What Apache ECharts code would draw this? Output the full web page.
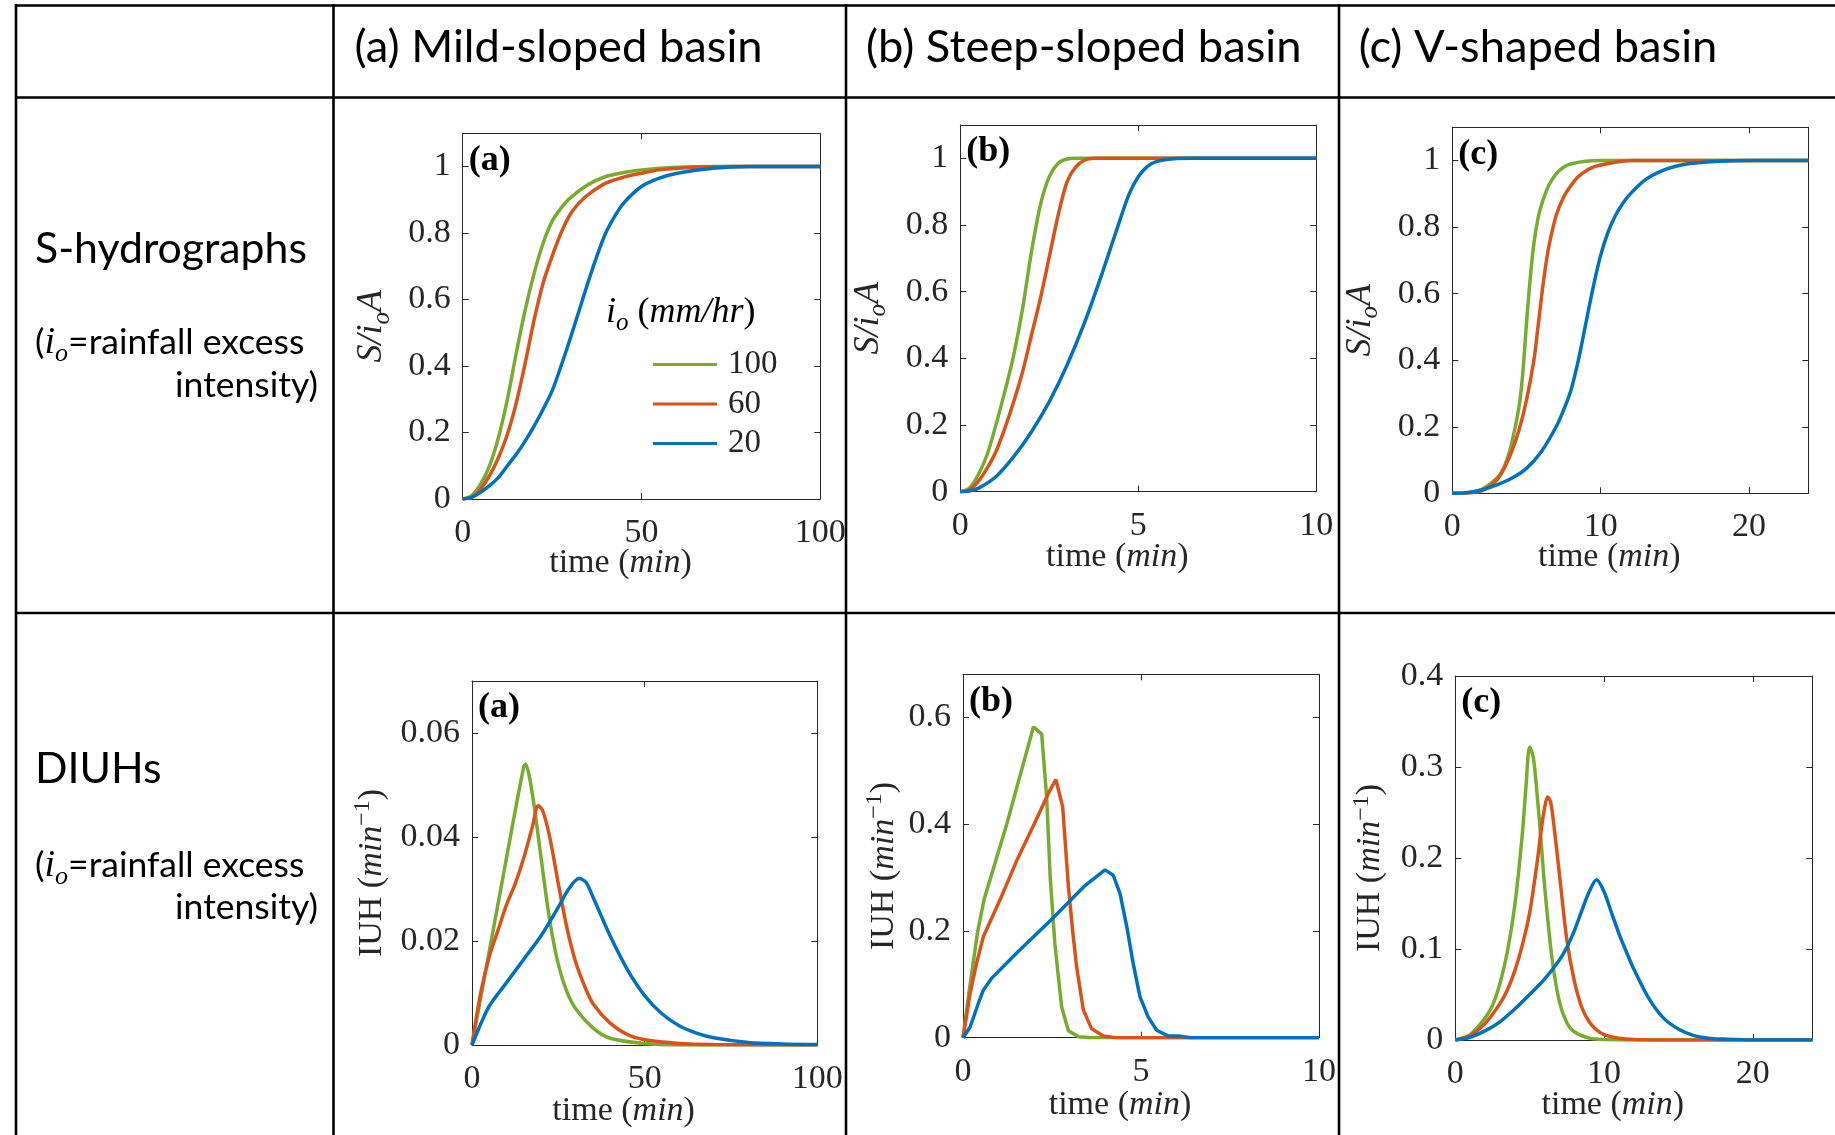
<!DOCTYPE html>
<html><head><meta charset="utf-8">
<script src="https://cdn.jsdelivr.net/npm/echarts@6/dist/echarts.min.js"></script>
<style>html,body{margin:0;padding:0;background:#fff}#c{width:1835px;height:1135px}</style>
</head><body><div id="c"></div>
<script>
// ---------------- DATA ----------------
const seriesNames = ['100', '60', '20'];
const colHeaders = ['(a) Mild-sloped basin', '(b) Steep-sloped basin', '(c) V-shaped basin'];
const rowHeaders = ['S-hydrographs', 'DIUHs'];
const panelTags = ['(a)', '(b)', '(c)', '(a)', '(b)', '(c)'];

const xTicksA = [0, 50, 100];
const xTicksB = [0, 5, 10];
const xTicksC = [0, 10, 20];
const yTicksS = [0, 0.2, 0.4, 0.6, 0.8, 1];
const yTicksIA = [0, 0.02, 0.04, 0.06];
const yTicksIB = [0, 0.2, 0.4, 0.6];
const yTicksIC = [0, 0.1, 0.2, 0.3, 0.4];

// S-hydrographs [time, S/ioA]
const sA_100 = [[0,0],[2.5,0.01],[5,0.045],[7.5,0.10],[10,0.185],[12.5,0.30],[15,0.44],[17.5,0.57],[20,0.68],[22.5,0.77],[25,0.835],[27.5,0.875],[30,0.905],[35,0.945],[40,0.97],[45,0.982],[50,0.99],[60,0.998],[70,1],[100,1]];
const sA_60 = [[0,0],[2.5,0.005],[5,0.03],[7.5,0.07],[10,0.125],[12.5,0.195],[15,0.29],[17.5,0.41],[20,0.54],[22.5,0.65],[25,0.73],[27.5,0.80],[30,0.855],[32.5,0.89],[35,0.915],[40,0.95],[45,0.968],[50,0.98],[55,0.99],[65,0.998],[75,1],[100,1]];
const sA_20 = [[0,0],[2.5,0.005],[5,0.02],[7.5,0.04],[10,0.065],[12.5,0.10],[15,0.135],[17.5,0.175],[20,0.22],[22.5,0.27],[25,0.325],[27.5,0.40],[30,0.48],[32.5,0.565],[35,0.65],[37.5,0.73],[40,0.80],[42.5,0.85],[45,0.89],[50,0.94],[55,0.965],[60,0.98],[70,0.995],[80,1],[100,1]];

const sB_100 = [[0,0],[0.25,0.01],[0.5,0.05],[0.75,0.11],[1,0.20],[1.25,0.30],[1.5,0.41],[1.75,0.55],[2,0.72],[2.25,0.86],[2.5,0.945],[2.75,0.985],[3,0.998],[3.25,1],[10,1]];
const sB_60 = [[0,0],[0.25,0.005],[0.5,0.03],[0.75,0.07],[1,0.12],[1.25,0.19],[1.5,0.27],[1.75,0.36],[2,0.47],[2.25,0.58],[2.5,0.705],[2.75,0.83],[3,0.93],[3.25,0.975],[3.5,0.995],[3.75,1],[10,1]];
const sB_20 = [[0,0],[0.25,0.002],[0.5,0.01],[1,0.045],[1.5,0.105],[2,0.18],[2.5,0.27],[3,0.38],[3.5,0.51],[4,0.66],[4.5,0.82],[4.75,0.895],[5,0.945],[5.25,0.975],[5.5,0.99],[6,0.999],[6.5,1],[10,1]];

const sC_100 = [[0,0],[1,0.002],[2,0.012],[3,0.045],[3.5,0.08],[4,0.15],[4.5,0.26],[4.75,0.36],[5,0.51],[5.25,0.645],[5.5,0.75],[5.75,0.82],[6,0.865],[6.5,0.925],[7,0.96],[7.5,0.98],[8,0.99],[9,0.998],[10,1],[24,1]];
const sC_60 = [[0,0],[1,0.001],[2,0.008],[3,0.04],[3.5,0.075],[4,0.125],[4.5,0.19],[5,0.28],[5.5,0.40],[5.75,0.49],[6,0.585],[6.25,0.67],[6.5,0.74],[7,0.835],[7.5,0.89],[8,0.925],[8.5,0.952],[9.5,0.98],[11,0.995],[12,1],[24,1]];
const sC_20 = [[0,0],[1,0.002],[2,0.01],[3,0.025],[4,0.045],[5,0.075],[6,0.125],[7,0.2],[7.5,0.25],[8,0.31],[8.5,0.40],[9,0.51],[9.5,0.62],[10,0.715],[10.5,0.785],[11,0.835],[11.5,0.872],[12,0.9],[13,0.942],[14,0.967],[15,0.982],[16,0.991],[18,0.998],[20,1],[24,1]];

// DIUHs [time, IUH]
const iA_100 = [[0,0],[2.5,0.009],[5,0.018],[7.5,0.027],[10,0.036],[12.5,0.045],[15,0.0535],[15.5,0.054],[16.5,0.052],[18,0.046],[20,0.036],[22.5,0.024],[25,0.0155],[27.5,0.0102],[30,0.007],[35,0.0033],[40,0.0013],[50,0.0003],[60,0],[100,0]];
const iA_60 = [[0,0],[2.5,0.010],[5,0.017],[7.5,0.022],[10,0.027],[12.5,0.031],[15,0.036],[17.5,0.042],[19.2,0.046],[20.5,0.045],[22.5,0.040],[25,0.031],[27.5,0.0225],[30,0.016],[32.5,0.0115],[35,0.008],[40,0.0042],[45,0.002],[50,0.001],[60,0.0003],[70,0.0001],[100,0]];
const iA_20 = [[0,0],[2.5,0.004],[5,0.0075],[10,0.012],[15,0.0165],[20,0.021],[25,0.0265],[28,0.030],[31,0.032],[33,0.0313],[35,0.0285],[40,0.021],[45,0.0145],[50,0.0095],[55,0.006],[60,0.0037],[65,0.0023],[70,0.0014],[80,0.0005],[90,0.0002],[100,0.0001]];

const iB_100 = [[0,0],[0.2,0.1],[0.41,0.198],[0.59,0.258],[1.23,0.40],[1.98,0.582],[2.21,0.568],[2.35,0.45],[2.45,0.30],[2.58,0.176],[2.77,0.058],[2.96,0.013],[3.24,0.002],[3.6,0],[10,0]];
const iB_60 = [[0,0],[0.2,0.083],[0.38,0.139],[0.57,0.189],[1.04,0.258],[1.5,0.33],[2.0,0.40],[2.44,0.463],[2.61,0.483],[2.8,0.432],[2.96,0.283],[3.08,0.2],[3.19,0.133],[3.38,0.052],[3.61,0.017],[3.94,0.003],[4.3,0],[10,0]];
const iB_20 = [[0,0],[0.2,0.02],[0.43,0.064],[0.57,0.089],[0.8,0.111],[1.5,0.158],[2.5,0.222],[3.4,0.283],[3.99,0.314],[4.22,0.304],[4.41,0.27],[4.6,0.208],[4.78,0.139],[4.97,0.077],[5.2,0.039],[5.44,0.014],[5.77,0.003],[6.05,0.003],[6.4,0],[10,0]];

const iC_100 = [[0,0],[1,0.006],[2,0.024],[2.5,0.038],[3,0.062],[3.5,0.097],[4,0.148],[4.5,0.225],[4.75,0.278],[5,0.322],[5.25,0.31],[5.5,0.27],[5.75,0.222],[6,0.17],[6.5,0.09],[7,0.042],[7.5,0.019],[8,0.009],[9,0.002],[10,0.0005],[12,0],[24,0]];
const iC_60 = [[0,0],[1,0.005],[2,0.018],[3,0.04],[3.5,0.055],[4,0.076],[4.5,0.104],[5,0.14],[5.5,0.195],[5.75,0.228],[6,0.255],[6.2,0.267],[6.4,0.262],[6.6,0.24],[7,0.182],[7.5,0.11],[8,0.065],[8.5,0.036],[9,0.02],[9.5,0.011],[10,0.006],[11,0.002],[12,0.0005],[14,0],[24,0]];
const iC_20 = [[0,0],[1,0.003],[2,0.01],[3,0.02],[4,0.034],[5,0.05],[6,0.067],[7,0.088],[7.5,0.102],[8,0.12],[8.5,0.142],[9,0.163],[9.5,0.176],[10,0.163],[10.5,0.14],[11,0.117],[11.5,0.097],[12,0.078],[13,0.046],[14,0.024],[15,0.012],[16,0.005],[17,0.002],[18,0.001],[20,0],[24,0]];

// ---------------- STYLE / LAYOUT ----------------
const colors = ['#77AC30', '#D95319', '#0072BD'];
const AXC = '#262626';
const SERIF = 'Liberation Serif';
const SANS = 'Lato';
const TICKFS = 34;

const richAxis = {
  n: {fontFamily: SERIF, fontSize: 36, color: AXC, lineHeight: 46},
  it: {fontFamily: SERIF, fontStyle: 'italic', fontSize: 36, color: AXC, lineHeight: 46},
  sub: {fontFamily: SERIF, fontStyle: 'italic', fontSize: 25, color: AXC, lineHeight: 25, verticalAlign: 'bottom'}
};
const richTime = {
  n: {fontFamily: SERIF, fontSize: 34, color: AXC, lineHeight: 36},
  it: {fontFamily: SERIF, fontStyle: 'italic', fontSize: 34, color: AXC, lineHeight: 36}
};
const richIUH = {
  n: {fontFamily: SERIF, fontSize: 34, color: AXC, lineHeight: 42},
  it: {fontFamily: SERIF, fontStyle: 'italic', fontSize: 34, color: AXC, lineHeight: 42},
  sup: {fontFamily: SERIF, fontSize: 24, color: AXC, lineHeight: 24, verticalAlign: 'top'}
};
const nameS = '{it|S/i}{sub|o}{it|A}';
const nameIUH = '{n|IUH (}{it|min}{sup|\u22121}{n|)}';
const nameTime = '{n|time (}{it|min}{n|)}';

const panels = [
  {grid: {left: 462.7, top: 133.3, width: 357.6, height: 365.7}, xMax: 100, xInt: 50, xTicks: xTicksA, yMax: 1.1, yInt: 0.2, yTicks: yTicksS, yName: nameS, yRich: richAxis, yGap: 68, xGap: 46, data: [sA_100, sA_60, sA_20], smooth: 0.3},
  {grid: {left: 960.3, top: 125, width: 356, height: 366.7}, xMax: 10, xInt: 5, xTicks: xTicksB, yMax: 1.1, yInt: 0.2, yTicks: yTicksS, yName: nameS, yRich: richAxis, yGap: 69, xGap: 47, data: [sB_100, sB_60, sB_20], smooth: 0.3},
  {grid: {left: 1452.3, top: 127.3, width: 356, height: 366}, xMax: 24, xInt: 10, xTicks: xTicksC, yMax: 1.1, yInt: 0.2, yTicks: yTicksS, yName: nameS, yRich: richAxis, yGap: 69, xGap: 46, data: [sC_100, sC_60, sC_20], smooth: 0.3},
  {grid: {left: 472, top: 681, width: 345.3, height: 364}, xMax: 100, xInt: 50, xTicks: xTicksA, yMax: 0.07, yInt: 0.02, yTicks: yTicksIA, yName: nameIUH, yRich: richIUH, yGap: 79, xGap: 48, data: [iA_100, iA_60, iA_20], smooth: 0.3},
  {grid: {left: 963, top: 674.3, width: 356, height: 363.4}, xMax: 10, xInt: 5, xTicks: xTicksB, yMax: 0.68, yInt: 0.2, yTicks: yTicksIB, yName: nameIUH, yRich: richIUH, yGap: 58, xGap: 49.5, data: [iB_100, iB_60, iB_20], smooth: false},
  {grid: {left: 1455.3, top: 676, width: 357, height: 364}, xMax: 24, xInt: 10, xTicks: xTicksC, yMax: 0.4, yInt: 0.1, yTicks: yTicksIC, yName: nameIUH, yRich: richIUH, yGap: 64, xGap: 47.5, data: [iC_100, iC_60, iC_20], smooth: 0.3}
];

function fmt(ticks) {
  return function (v) {
    for (const t of ticks) { if (Math.abs(t - v) < 1e-9) return String(t); }
    return '';
  };
}

const grids = [], xAxes = [], yAxes = [], series = [], graphics = [];
panels.forEach((p, i) => {
  grids.push(Object.assign({containLabel: false, outerBoundsMode: 'none'}, p.grid));
  const axLine = {show: true, onZero: false, lineStyle: {color: AXC, width: 1}};
  const tick = {show: true, inside: true, length: 6, lineStyle: {color: AXC, width: 1}};
  xAxes.push({gridIndex: i, type: 'value', position: 'bottom', min: 0, max: p.xMax, interval: p.xInt,
    axisLine: axLine, axisTick: tick, splitLine: {show: false},
    axisLabel: {margin: 17, color: AXC, fontFamily: SERIF, fontSize: TICKFS, formatter: fmt(p.xTicks)},
    name: nameTime, nameLocation: 'middle', nameGap: p.xGap, nameMoveOverlap: false,
    nameTextStyle: {padding: [0, 42, 0, 0], rich: richTime}});
  xAxes.push({gridIndex: i, type: 'value', position: 'top', min: 0, max: p.xMax, interval: p.xInt,
    axisLine: axLine, axisTick: tick, splitLine: {show: false}, axisLabel: {show: false}});
  yAxes.push({gridIndex: i, type: 'value', position: 'left', min: 0, max: p.yMax, interval: p.yInt,
    axisLine: axLine, axisTick: tick, splitLine: {show: false},
    axisLabel: {margin: 12, color: AXC, fontFamily: SERIF, fontSize: TICKFS, formatter: fmt(p.yTicks)},
    name: p.yName, nameLocation: 'middle', nameGap: p.yGap, nameRotate: 90,
    nameTextStyle: {padding: [0, 20, 0, 0], rich: p.yRich}});
  yAxes.push({gridIndex: i, type: 'value', position: 'right', min: 0, max: p.yMax, interval: p.yInt,
    axisLine: axLine, axisTick: tick, splitLine: {show: false}, axisLabel: {show: false}});
  p.data.forEach((d, k) => {
    series.push({type: 'line', name: seriesNames[k], xAxisIndex: 2 * i, yAxisIndex: 2 * i, data: d,
      showSymbol: false, symbol: 'none', smooth: p.smooth, clip: true,
      lineStyle: {width: 3.5, color: colors[k]}, itemStyle: {color: colors[k]}});
  });
  graphics.push({type: 'text', x: p.grid.left + 6, y: p.grid.top + 27, z: 10,
    style: {text: panelTags[i], fontFamily: SERIF, fontWeight: 'bold', fontSize: 36, fill: '#000', verticalAlign: 'middle', align: 'left'}});
});

// table lines
const LW = 2.6;
function hline(y, x1, x2) { graphics.push({type: 'line', shape: {x1: x1, y1: y, x2: x2, y2: y}, style: {stroke: '#000', lineWidth: LW}}); }
function vline(x, y1, y2) { graphics.push({type: 'line', shape: {x1: x, y1: y1, x2: x, y2: y2}, style: {stroke: '#000', lineWidth: LW}}); }
hline(5.5, 15, 1835);
hline(97.5, 15, 1835);
hline(613, 15, 1835);
vline(16, 4, 1135);
vline(333.5, 4, 1135);
vline(846, 4, 1135);
vline(1339, 4, 1135);

// column headers
const headerX = [354.6, 866, 1358.7];
colHeaders.forEach((h, i) => {
  graphics.push({type: 'text', x: headerX[i], y: 47, style: {text: h, fontFamily: SANS, fontSize: 45.3, fill: '#000', verticalAlign: 'middle', align: 'left'}});
});

// row headers
const richRow = {
  n: {fontFamily: SANS, fontSize: 35.5, color: '#000', lineHeight: 48},
  i: {fontFamily: SERIF, fontStyle: 'italic', fontSize: 38, color: '#000', lineHeight: 48},
  s: {fontFamily: SERIF, fontStyle: 'italic', fontSize: 26, color: '#000', lineHeight: 26, verticalAlign: 'bottom'}
};
const rowY = [249, 769];
const rowSubY = [[343, 386], [866, 908]];
rowHeaders.forEach((r, i) => {
  graphics.push({type: 'text', x: 35, y: rowY[i], style: {text: r, fontFamily: SANS, fontSize: 42.8, fill: '#000', verticalAlign: 'middle', align: 'left'}});
  graphics.push({type: 'text', x: 35, y: rowSubY[i][0], style: {text: '{n|(}{i|i}{s|o}{n|=rainfall excess}', rich: richRow, verticalAlign: 'middle', align: 'left'}});
  graphics.push({type: 'text', x: 318, y: rowSubY[i][1], style: {text: 'intensity)', fontFamily: SANS, fontSize: 35.5, fill: '#000', verticalAlign: 'middle', align: 'right'}});
});

// legend title
graphics.push({type: 'text', x: 606, y: 313, z: 10, style: {text: '{it|i}{sub|o}{n| (}{it|mm/hr}{n|)}', rich: richAxis, verticalAlign: 'middle', align: 'left'}});

const option = {
  backgroundColor: '#fff',
  animation: false,
  grid: grids,
  xAxis: xAxes,
  yAxis: yAxes,
  legend: {data: seriesNames, orient: 'vertical', left: 653, top: 348, padding: 0, itemWidth: 64, itemHeight: 3, itemGap: 6.5,
    icon: 'rect', selectedMode: false,
    textStyle: {fontFamily: SERIF, fontSize: 33, color: AXC, lineHeight: 32, padding: [0, 0, 0, 6]}},
  series: series,
  graphic: graphics
};
const chart = echarts.init(document.getElementById('c'), null, {renderer: 'canvas'});
chart.setOption(option);
</script></body></html>
